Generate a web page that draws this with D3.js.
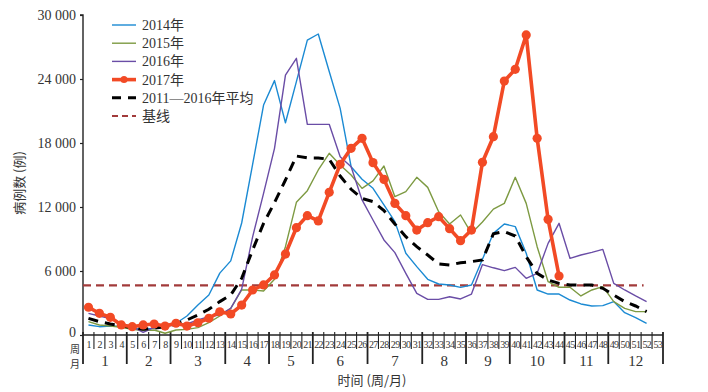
<!DOCTYPE html>
<html><head><meta charset="utf-8">
<script src="https://cdn.jsdelivr.net/npm/d3@7/dist/d3.min.js"></script>
<style>
html,body{margin:0;padding:0;background:#fff;}
svg{display:block;}
text{font-family:"Liberation Serif","Times New Roman",serif;fill:#333;}
</style></head>
<body>
<svg id="chart" width="708" height="392"></svg>
<script>
const weeks = d3.range(1, 54);
const monthLabels = ["1","2","3","4","5","6","7","8","9","10","11","12"];
const monthEndWeeks = [4, 8, 13, 17, 21, 26, 31, 35, 39, 44, 48, 53];
const yTicks = [0, 6000, 12000, 18000, 24000, 30000];

const s2014 = [940,780,840,800,630,530,630,780,1100,1780,2810,3750,5800,6950,10500,16000,21560,23850,19900,23750,27650,28220,24700,21250,15780,14600,13750,12190,10630,7660,6410,5220,4780,4690,4470,4690,7100,9530,10410,10160,7660,4220,3840,3840,3280,2910,2720,2750,3130,2090,1630,1090];
const s2015 = [1250,940,840,720,530,410,470,160,470,530,690,1160,1780,2500,4220,4220,4130,5220,8280,12440,13530,15470,17030,15940,15000,13750,14450,15840,12970,13440,14780,13840,11560,10410,11250,9530,10600,11800,12340,14780,12340,8280,5000,4470,4470,3660,4220,4530,3130,2500,2190,2190];
const s2016 = [2030,1780,1530,1090,780,250,720,840,940,1030,1410,1720,1880,2500,4300,9200,13280,17500,24370,25940,19750,19750,19750,16720,15780,12660,10780,8910,7720,5780,3910,3340,3340,3590,3380,3840,6600,6300,6030,6340,5310,5780,8590,10470,7190,7500,7750,8030,4840,4220,3660,3130];
const s2017 = [2600,2030,1660,940,780,940,1030,840,1100,840,1150,1570,2180,1970,2810,4220,4690,5630,7590,10060,11190,10690,13380,16000,17500,18440,16160,14590,12340,11190,9840,10530,11090,9970,8840,9840,16190,18590,23810,24910,28130,18440,10840,5530];
const sAvg = [1560,1250,1030,840,690,530,630,780,1030,1410,1880,2410,3130,3750,5310,7970,10470,12410,14530,16780,16600,16600,16470,14900,13660,12800,12500,11660,10410,9220,8280,7500,6660,6560,6780,6880,7030,9480,9700,9280,7340,5780,5160,4840,4690,4690,4690,4380,3750,3130,2720,2190];
const baselineValue = 4650;

const legendLabels = ["2014年","2015年","2016年","2017年","2011—2016年平均","基线"];
const rowLabels = ["周","月"];

const svg = d3.select("#chart");
const x0 = 83, x1 = 663, yTop = 15, yBot = 335;

const x = d3.scaleBand().domain(weeks).range([x0, x1]).padding(0);
const y = d3.scaleLinear().domain([0, 30000]).range([yBot, yTop]);
const cx = w => x(w) + x.bandwidth() / 2;

const fmt = d3.formatLocale({decimal: ".", thousands: " ", grouping: [3], currency: ["", ""]}).format(",d");

// Y axis
const yAxis = d3.axisLeft(y).tickValues(yTicks).tickSize(3).tickPadding(4).tickFormat(fmt);
const gy = svg.append("g").attr("transform", `translate(${x0},0)`).call(yAxis);
gy.select(".domain").attr("stroke", "#222").attr("stroke-width", 1.4).attr("d", `M-3,${yTop}H0V${yBot}`);
gy.selectAll(".tick line").attr("stroke", "#222").attr("stroke-width", 1.2);
gy.selectAll(".tick text").style("font-size", "14px").style("font-family", "Liberation Serif, serif").attr("fill", "#333");
gy.selectAll(".tick").filter(d => d === 0).select("text").attr("dy", "0.12em");

// Y title
svg.append("text").attr("transform", `translate(24,${(yTop+yBot)/2 + 8}) rotate(-90)`)
  .attr("text-anchor", "middle").style("font-size", "13px").attr("fill", "#555")
  .style("font-family", "'Noto Sans CJK SC', serif").text("病例数 (例)");

// X axis
const gx = svg.append("g");
gx.append("line").attr("x1", x0).attr("x2", x1).attr("y1", yBot).attr("y2", yBot)
  .attr("stroke", "#222").attr("stroke-width", 1.6);
const boundaries = [0].concat(weeks);
gx.selectAll("line.wk").data(boundaries).join("line").attr("class", "wk")
  .attr("x1", d => d === 0 ? x0 : x(d) + x.bandwidth()).attr("x2", d => d === 0 ? x0 : x(d) + x.bandwidth())
  .attr("y1", yBot - 3)
  .attr("y2", d => (d === 0 || monthEndWeeks.includes(d)) ? 364 : 349)
  .attr("stroke", "#222").attr("stroke-width", d => (d === 0 || monthEndWeeks.includes(d)) ? 1.8 : 1.1);
gx.selectAll("text.wk").data(weeks).join("text").attr("class", "wk")
  .attr("x", d => cx(d) + 0.3).attr("y", 348).attr("text-anchor", "middle")
  .style("font-size", "10px").style("letter-spacing", "-0.6px").attr("fill", "#333").text(d => d);
const monthStarts = monthEndWeeks.map((e, i) => i === 0 ? 1 : monthEndWeeks[i-1] + 1);
gx.selectAll("text.mo").data(monthLabels).join("text").attr("class", "mo")
  .attr("x", (d, i) => (x(monthStarts[i]) + x(monthEndWeeks[i]) + x.bandwidth()) / 2)
  .attr("y", 366).attr("text-anchor", "middle").style("font-size", "15px").attr("fill", "#333").text(d => d);
svg.selectAll("text.rl").data(rowLabels).join("text").attr("class", "rl")
  .attr("x", 75).attr("y", (d, i) => 353 + i * 14.8).attr("text-anchor", "middle").style("font-size", "10px")
  .style("font-family", "'Noto Sans CJK SC',serif").attr("fill", "#444").text(d => d);
svg.append("text").attr("x", 372).attr("y", 385).attr("text-anchor", "middle").style("font-size", "13px")
  .style("font-family", "'Noto Sans CJK SC', serif").attr("fill", "#555").text("时间 (周/月)");

// Baseline
svg.append("line").attr("x1", x0).attr("x2", cx(52) - 3).attr("y1", y(baselineValue)).attr("y2", y(baselineValue))
  .attr("stroke", "#a23b3b").attr("stroke-width", 2.2).attr("stroke-dasharray", "8,5");

const line = d3.line().x((d, i) => cx(i + 1)).y(d => y(d));
const series = [
  {v: s2014, c: "#1b8ad3", w: 1.4},
  {v: s2015, c: "#7d9a42", w: 1.4},
  {v: s2016, c: "#6a4da6", w: 1.4}
];
series.forEach(s => svg.append("path").datum(s.v).attr("d", line).attr("fill", "none")
  .attr("stroke", s.c).attr("stroke-width", s.w).attr("stroke-linejoin", "round"));
svg.append("path").datum(sAvg).attr("d", line).attr("fill", "none").attr("stroke", "#000")
  .attr("stroke-width", 3).attr("stroke-dasharray", "10,7");
svg.append("path").datum(s2017).attr("d", line).attr("fill", "none").attr("stroke", "#f24a25")
  .attr("stroke-width", 3.6).attr("stroke-linejoin", "round");
svg.selectAll("circle.p17").data(s2017).join("circle").attr("class", "p17")
  .attr("cx", (d, i) => cx(i + 1)).attr("cy", d => y(d)).attr("r", 4.6).attr("fill", "#f24a25");

// Legend
const lg = svg.append("g");
const lgStyles = [
  {c: "#1b8ad3", w: 1.4, dash: null},
  {c: "#7d9a42", w: 1.4, dash: null},
  {c: "#6a4da6", w: 1.4, dash: null},
  {c: "#f24a25", w: 3.6, dash: null, dot: true},
  {c: "#000", w: 3, dash: "9,7"},
  {c: "#a23b3b", w: 2.2, dash: "6,4"}
];
legendLabels.forEach((t, i) => {
  const yy = 25 + i * 18.2;
  lg.append("line").attr("x1", 112).attr("x2", 136).attr("y1", yy).attr("y2", yy)
    .attr("stroke", lgStyles[i].c).attr("stroke-width", lgStyles[i].w)
    .attr("stroke-dasharray", lgStyles[i].dash);
  if (lgStyles[i].dot) lg.append("circle").attr("cx", 124).attr("cy", yy).attr("r", 3.5).attr("fill", lgStyles[i].c);
  lg.append("text").attr("x", 142).attr("y", yy + 5).style("font-size", "14px").attr("fill", "#333")
    .style("font-family", "'Liberation Serif','Noto Sans CJK SC',serif").text(t);
});
</script>
</body></html>
